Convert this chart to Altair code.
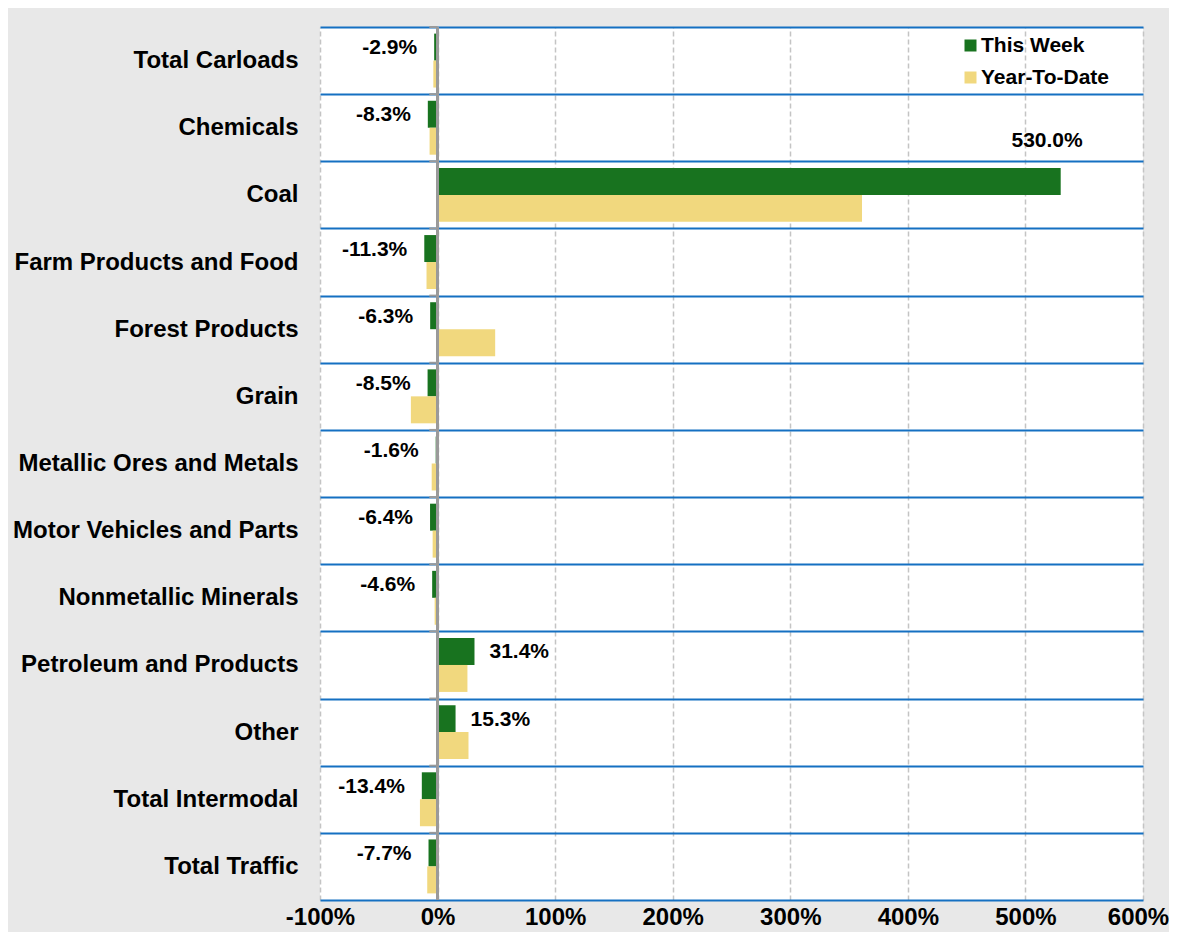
import altair as alt
import pandas as pd

categories = ["Total Carloads", "Chemicals", "Coal", "Farm Products and Food",
              "Forest Products", "Grain", "Metallic Ores and Metals",
              "Motor Vehicles and Parts", "Nonmetallic Minerals",
              "Petroleum and Products", "Other", "Total Intermodal", "Total Traffic"]
this_week = [-2.9, -8.3, 530.0, -11.3, -6.3, -8.5, -1.6, -6.4, -4.6, 31.4, 15.3, -13.4, -7.7]
year_to_date = [-3.6, -6.8, 361.0, -9.4, 49.0, -22.7, -5.0, -4.2, -2.5, 25.4, 26.3, -15.0, -8.8]
series = ["This Week", "Year-To-Date"]
colors = ["#18731f", "#f1d87e"]
x_ticks = [-100, 0, 100, 200, 300, 400, 500, 600]

rows = []
for c, w, y in zip(categories, this_week, year_to_date):
    rows.append({"category": c, "series": series[0], "value": w})
    rows.append({"category": c, "series": series[1], "value": y})
df = pd.DataFrame(rows)
df["label"] = df["value"].map(lambda v: f"{v:.1f}%")
cat_df = pd.DataFrame({"category": categories})

FONT = "Liberation Sans"

x_scale = alt.Scale(domain=[-100, 600], nice=False, zero=False)
y_scale = alt.Scale(domain=categories, paddingInner=0, paddingOuter=0)

x_enc = alt.X("value:Q", scale=x_scale,
              axis=alt.Axis(values=x_ticks, labelExpr="datum.value + '%'", title=None,
                            grid=True, gridColor="#c4c4c4", gridDash=[5, 3], gridWidth=1.5,
                            domain=False, ticks=False, labelFont=FONT, labelFontSize=24,
                            labelFontWeight="bold", labelColor="#000000", labelPadding=5,
                            labelFlush=False, labelOverlap=False, labelBound=False,
                            labelOffset=alt.ExprRef("datum.value == 600 ? -5 : 0"))
              )
y_enc = alt.Y("category:N", scale=y_scale, sort=categories,
              axis=alt.Axis(title=None, tickBand="extent", grid=True, gridColor="#1570c2",
                            gridWidth=2, domain=False, ticks=False, labelFont=FONT,
                            labelFontSize=24, labelFontWeight="bold", labelColor="#000000",
                            labelPadding=22, labelLimit=400))
yoff = alt.YOffset("series:N", sort=series,
                   scale=alt.Scale(domain=series, paddingOuter=0.245, paddingInner=0))

bars = alt.Chart(df).mark_bar().encode(
    x=x_enc,
    y=y_enc,
    yOffset=yoff,
    color=alt.Color("series:N", scale=alt.Scale(domain=series, range=colors),
                    legend=alt.Legend(title=None, orient="none", legendX=640, legendY=8,
                                      symbolType="square", symbolSize=144,
                                      symbolStrokeWidth=0, labelFont=FONT, labelFontSize=21,
                                      labelFontWeight="bold", labelColor="#000000",
                                      labelOffset=0, rowPadding=10, padding=0)),
)

tw = alt.Chart(df).transform_filter(alt.datum.series == "This Week")

neg_labels = tw.transform_filter(alt.datum.value < 0).mark_text(
    align="right", baseline="middle", dx=-17, dy=1, font=FONT, fontSize=21,
    fontWeight="bold", color="#000000").encode(
    x="value:Q", y=alt.Y("category:N", sort=categories), yOffset=yoff, text="label:N")

pos_labels = tw.transform_filter((alt.datum.value > 0) & (alt.datum.value < 100)).mark_text(
    align="left", baseline="middle", dx=15, dy=1, font=FONT, fontSize=21,
    fontWeight="bold", color="#000000").encode(
    x="value:Q", y=alt.Y("category:N", sort=categories), yOffset=yoff, text="label:N")

big_labels = tw.transform_filter(alt.datum.value >= 100).mark_text(
    align="right", baseline="middle", dx=22, dy=-40, font=FONT, fontSize=21,
    fontWeight="bold", color="#000000").encode(
    x="value:Q", y=alt.Y("category:N", sort=categories), yOffset=yoff, text="label:N")

zero_line = alt.Chart(cat_df).mark_rule(color="#9a9a9a", strokeWidth=2.5).encode(
    x=alt.datum(0), y=alt.value(0), y2=alt.value(873))

ticks_top = alt.Chart(cat_df).mark_rule(color="#9a9a9a", strokeWidth=2).encode(
    x=alt.datum(-7), x2=alt.datum(0),
    y=alt.Y("category:N", sort=categories, bandPosition=0))

chart = alt.layer(bars, zero_line, ticks_top, neg_labels, pos_labels, big_labels).properties(
    width=823, height=873,
    background="#e8e8e8",
    padding={"left": 312, "top": 19, "right": 26, "bottom": 32},
    autosize=alt.AutoSizeParams(type="none"),
).configure_view(fill="#ffffff", stroke=None)

chart.save("out.html", embed_options={"renderer": "svg", "actions": False})
